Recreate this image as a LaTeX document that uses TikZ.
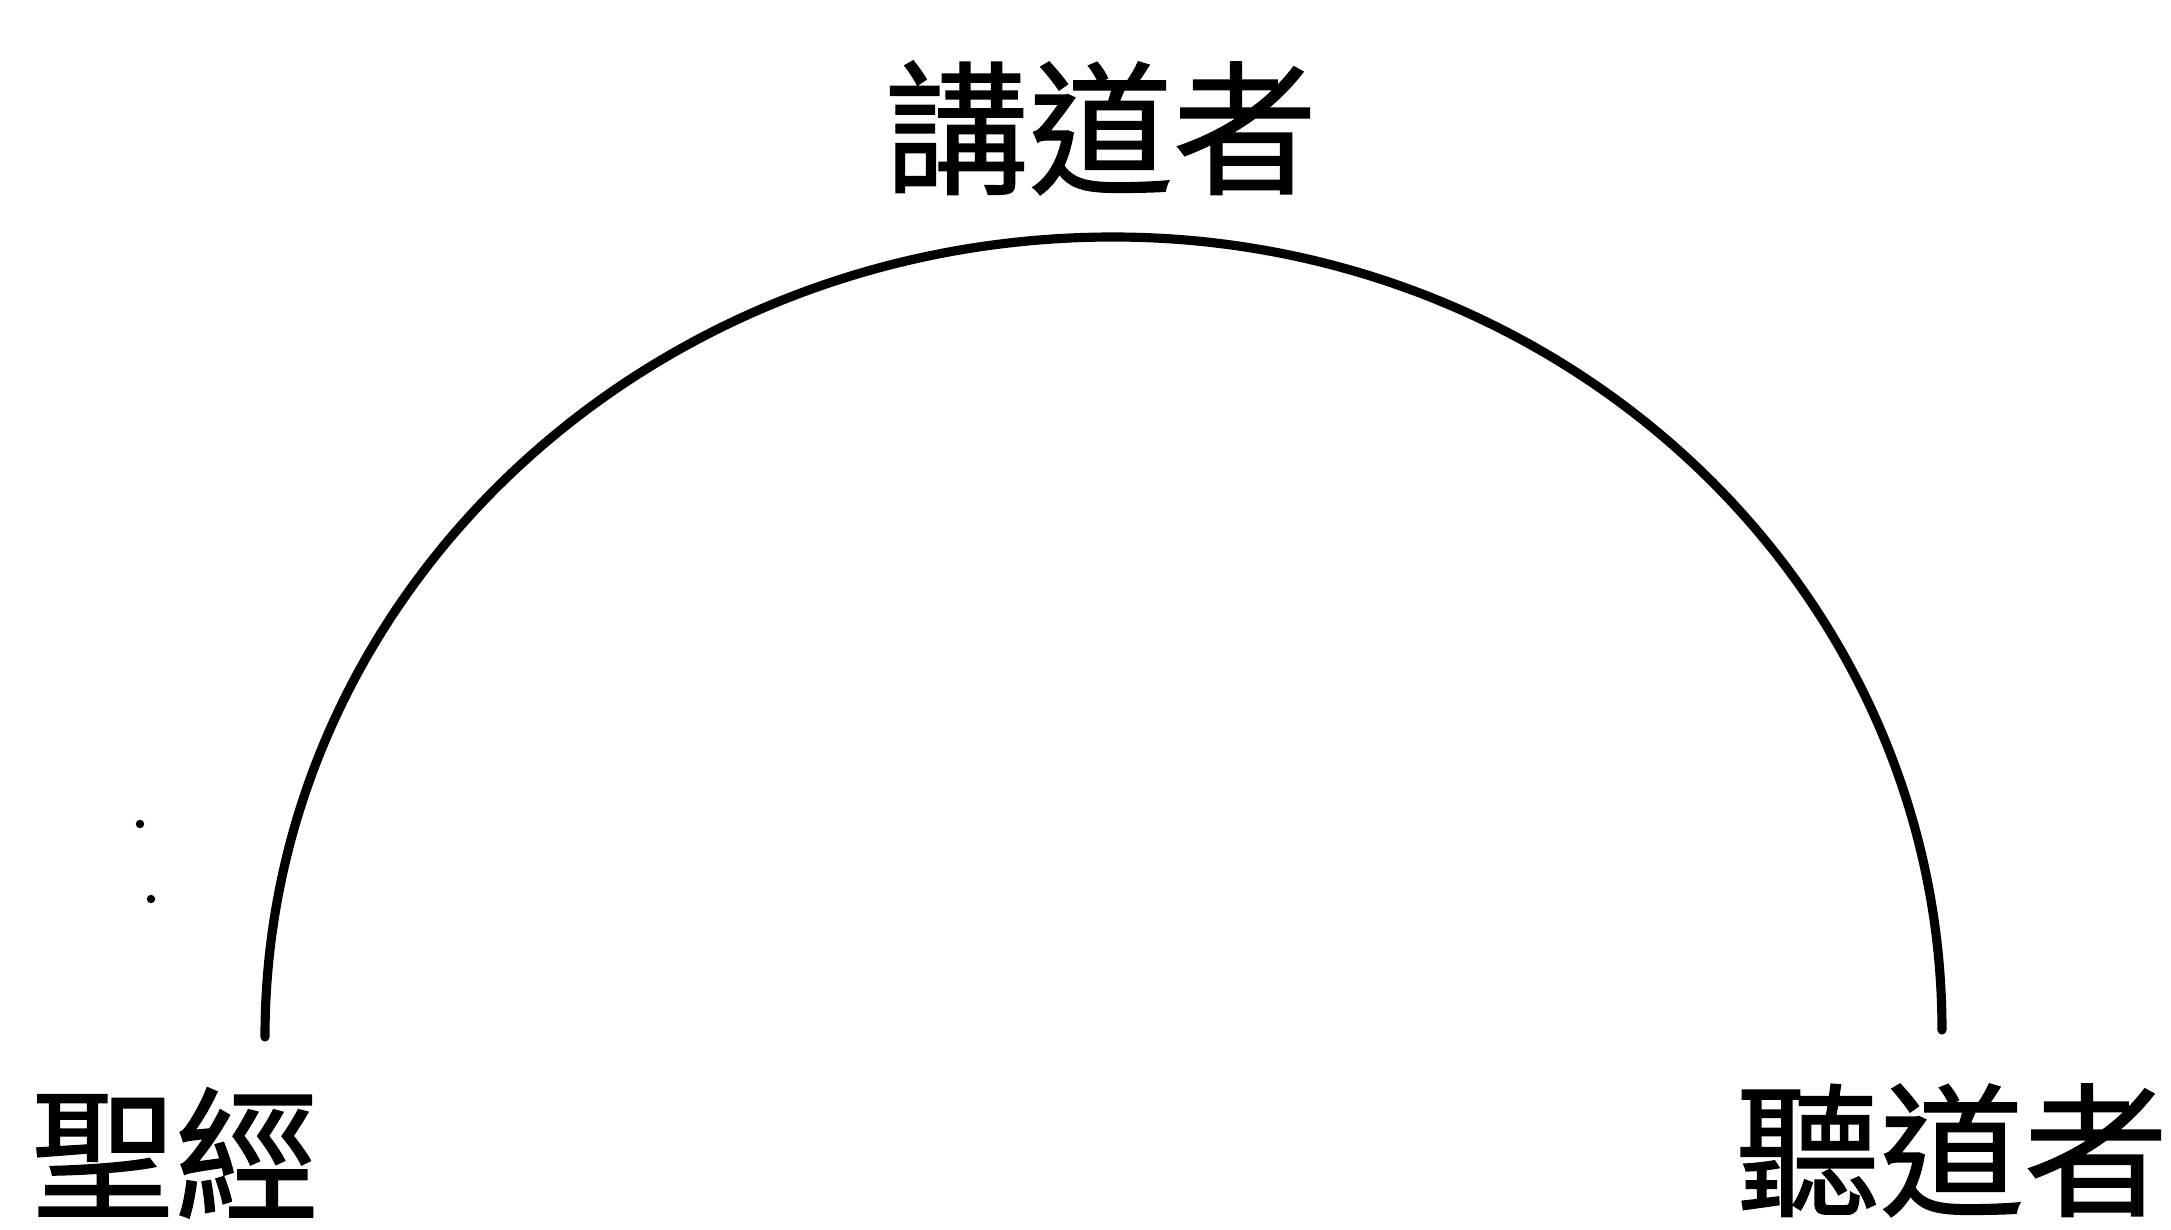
\documentclass[tikz,border=0pt]{standalone}
\usepackage{fontspec}
\newfontfamily\cjk[FakeBold=1]{Noto Sans CJK TC}
\usetikzlibrary{positioning,calc}

\begin{document}
\begin{tikzpicture}[
    x=0.01cm, y=0.01cm,
    lbl/.style={font=\cjk\fontsize{41}{41}\selectfont, inner sep=0pt, anchor=base},
    curve/.style={draw, line width=2.6pt, line cap=round},
    speck/.style={fill, circle, inner sep=0pt, minimum size=2.4pt}
]
\useasboundingbox (0,0) rectangle (2171,1229);

\node[lbl] (preacher) at (1101,1046) {講道者};
\node[lbl] (bible) at (175,20) {聖經};
\node[lbl] (hearer) at (1952,24) {聽道者};

\coordinate (lfoot) at (265,192);
\coordinate (apex) at (1113,992);
\coordinate (rfoot) at (1942,199);

\draw[curve] (lfoot) .. controls ($(lfoot)+(0,442)$) and ($(apex)-(468,0)$) .. (apex)
                     .. controls ($(apex)+(458,0)$) and ($(rfoot)+(0,438)$) .. (rfoot);

\node[speck] (d1) at (140,405) {};
\node[speck] (d2) at (151,330) {};

\end{tikzpicture}
\end{document}
